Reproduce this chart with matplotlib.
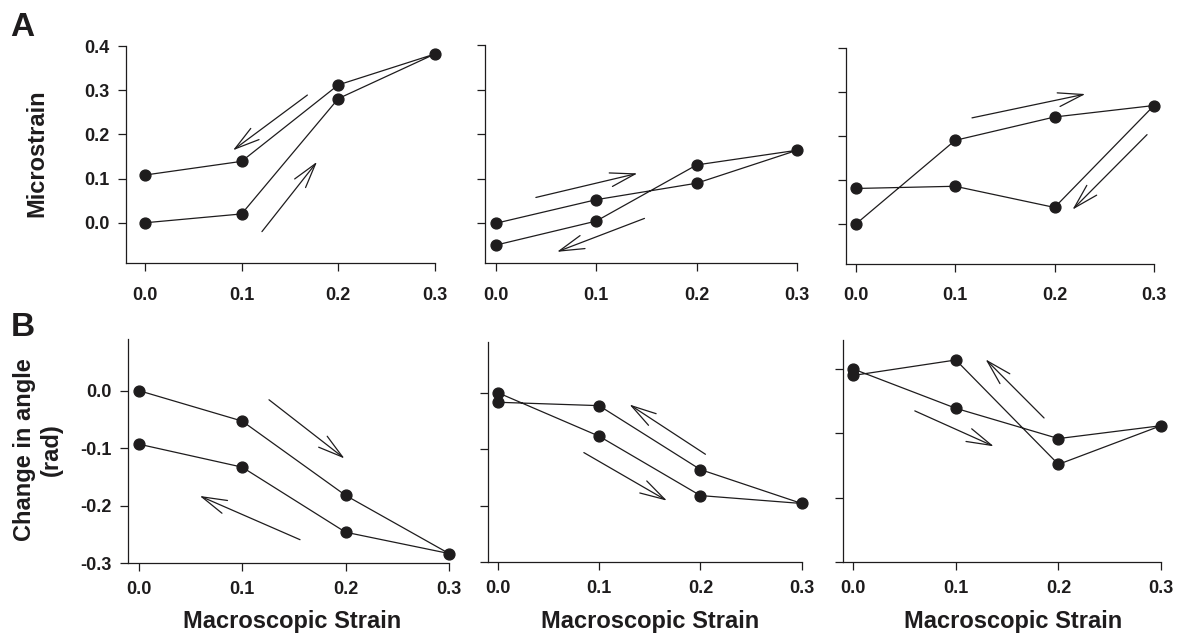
import numpy as np
import matplotlib
matplotlib.use("Agg")
import matplotlib.pyplot as plt
from matplotlib.patches import FancyArrowPatch

plt.rcParams.update({
    "font.family": ["Liberation Sans", "DejaVu Sans"],
    "font.weight": "bold",
    "axes.linewidth": 0.9,
})

INK = "#1e1c1d"

# ── Data ──────────────────────────────────────────────────────────────────────
# each panel: loading 0 -> 0.3, then unloading back to 0
STRAIN = [0.0, 0.1, 0.2, 0.3, 0.2, 0.1, 0.0]

MICRO_1 = [0.0, 0.020, 0.281, 0.382, 0.312, 0.139, 0.108]
MICRO_2 = [0.0, 0.053, 0.090, 0.164, 0.131, 0.005, -0.049]
MICRO_3 = [0.0, 0.190, 0.243, 0.269, 0.038, 0.086, 0.081]

ANGLE_1 = [0.0, -0.053, -0.182, -0.283, -0.246, -0.133, -0.093]
ANGLE_2 = [0.0, -0.077, -0.182, -0.196, -0.136, -0.023, -0.017]
ANGLE_3 = [0.0, -0.061, -0.108, -0.088, -0.148, 0.014, -0.010]

# direction arrows (x0, y0, x1, y1) in data units
ARROWS_A1 = [(0.121, -0.020, 0.178, 0.138), (0.168, 0.289, 0.091, 0.164)]
ARROWS_A2 = [(0.040, 0.058, 0.141, 0.112), (0.148, 0.011, 0.061, -0.064)]
ARROWS_A3 = [(0.117, 0.241, 0.231, 0.295), (0.293, 0.203, 0.218, 0.033)]
ARROWS_B1 = [(0.126, -0.016, 0.199, -0.118), (0.156, -0.259, 0.059, -0.183)]
ARROWS_B2 = [(0.205, -0.109, 0.130, -0.021), (0.085, -0.106, 0.167, -0.191)]
ARROWS_B3 = [(0.186, -0.076, 0.129, 0.015), (0.060, -0.065, 0.137, -0.120)]

X_TICKS = [0.0, 0.1, 0.2, 0.3]
MICRO_TICKS = [0.0, 0.1, 0.2, 0.3, 0.4]
ANGLE_TICKS = [-0.3, -0.2, -0.1, 0.0]

W, H = 1179, 635


def rect(l, t, r, b):
    # pixel box -> figure fraction
    return [l / W, 1 - b / H, (r - l) / W, (b - t) / H]


fig = plt.figure(figsize=(W / 100, H / 100), dpi=100)

panels = [
    # rect, xlim, ylim, y, arrows, yticks, show ylabels, xpad
    (rect(126, 46, 435, 263), (-0.0196, 0.3), (-0.091, 0.4), MICRO_1, ARROWS_A1, MICRO_TICKS, True, 11.5),
    (rect(485, 45, 797.3, 263.3), (-0.0106, 0.3), (-0.0897, 0.4), MICRO_2, ARROWS_A2, MICRO_TICKS, False, 11.5),
    (rect(845.7, 47.7, 1154, 263.5), (-0.0100, 0.3), (-0.089, 0.4), MICRO_3, ARROWS_A3, MICRO_TICKS, False, 11.5),
    (rect(128.3, 339.3, 449, 563.3), (-0.0100, 0.3), (-0.3, 0.089), ANGLE_1, ARROWS_B1, ANGLE_TICKS, True, 7),
    (rect(487.7, 342.3, 801.7, 562.3), (-0.0099, 0.3), (-0.3, 0.089), ANGLE_2, ARROWS_B2, ANGLE_TICKS, False, 7),
    (rect(843.3, 340, 1161, 562.3), (-0.0097, 0.3), (-0.3, 0.045), ANGLE_3, ARROWS_B3, ANGLE_TICKS, False, 7),
]

for r, xl, yl, yv, arrows, yt, show_y, xpad in panels:
    ax = fig.add_axes(r)
    ax.plot(STRAIN, yv, "-", color=INK, lw=0.9, zorder=2, clip_on=False)
    ax.plot(STRAIN, yv, "o", color=INK, ms=7.8, zorder=3, clip_on=False)
    for x0, y0, x1, y1 in arrows:
        ax.add_patch(FancyArrowPatch((x0, y0), (x1, y1),
                                     arrowstyle="->,head_length=18,head_width=5",
                                     mutation_scale=1, shrinkA=0, shrinkB=0,
                                     color=INK, lw=0.9, clip_on=False))
    ax.set_xlim(*xl)
    ax.set_ylim(*yl)
    ax.set_xticks(X_TICKS)
    ax.set_xticklabels([f"{v:.1f}" for v in X_TICKS])
    ax.set_yticks(yt)
    if show_y:
        ax.set_yticklabels([f"{v:.1f}" for v in yt])
    else:
        ax.set_yticklabels([])
    for s in ("top", "right"):
        ax.spines[s].set_visible(False)
    ax.spines["left"].set_color(INK)
    ax.spines["bottom"].set_color(INK)
    ax.tick_params(axis="both", direction="out", length=5.5, width=0.9,
                   color=INK, labelsize=13, labelcolor=INK)
    ax.tick_params(axis="x", pad=xpad)
    ax.tick_params(axis="y", pad=6.5)
    for lab in ax.get_xticklabels() + ax.get_yticklabels():
        lab.set_fontweight("bold")

# ── Labels ────────────────────────────────────────────────────────────────────
fig.text(10 / W, 1 - 12 / H, "A", fontsize=24, fontweight="bold", ha="left", va="top", color=INK)
fig.text(11 / W, 1 - 312 / H, "B", fontsize=24, fontweight="bold", ha="left", va="top", color=INK)

fig.text(36.7 / W, 1 - 153 / H, "Microstrain", rotation=90, fontsize=17,
         fontweight="bold", ha="center", va="center", color=INK)
fig.text(37.5 / W, 1 - 450 / H, "Change in angle\n(rad)", rotation=90, fontsize=17,
         fontweight="bold", ha="center", va="center", multialignment="center",
         linespacing=1.22, color=INK)

for cx in (292.5, 650, 1013.5):
    fig.text(cx / W, 1 - 621.7 / H, "Macroscopic Strain", fontsize=17,
             fontweight="bold", ha="center", va="center", color=INK)

fig.savefig("out.png", dpi=100)
